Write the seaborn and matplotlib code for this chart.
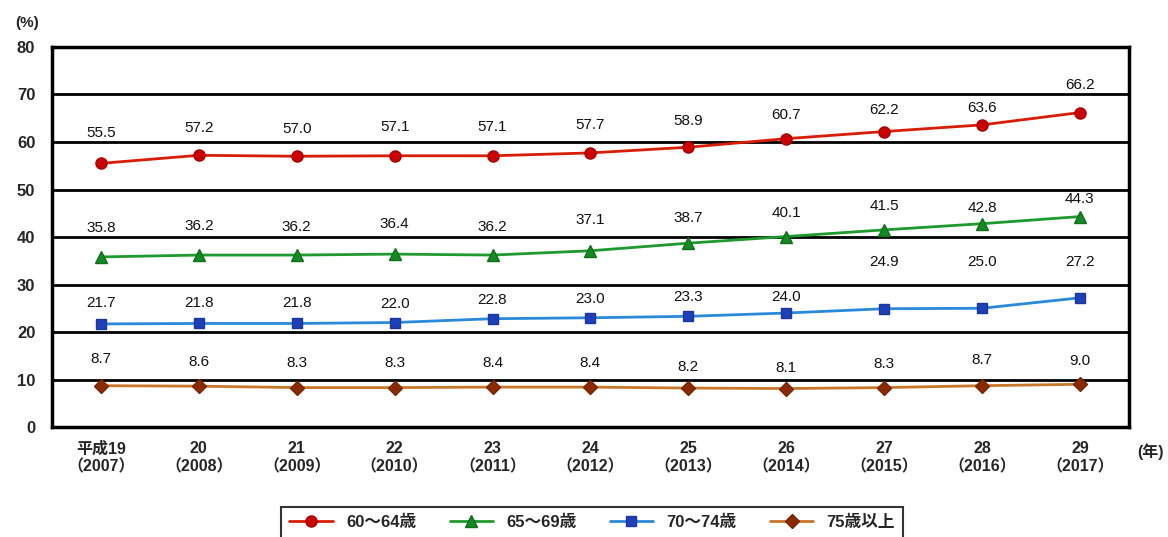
import numpy as np
import pandas as pd
import matplotlib
matplotlib.use("Agg")
import matplotlib.pyplot as plt
import seaborn as sns

years = ["平成19\n（2007）", "20\n（2008）", "21\n（2009）", "22\n（2010）", "23\n（2011）",
         "24\n（2012）", "25\n（2013）", "26\n（2014）", "27\n（2015）", "28\n（2016）", "29\n（2017）"]
s60_64 = [55.5, 57.2, 57.0, 57.1, 57.1, 57.7, 58.9, 60.7, 62.2, 63.6, 66.2]
s65_69 = [35.8, 36.2, 36.2, 36.4, 36.2, 37.1, 38.7, 40.1, 41.5, 42.8, 44.3]
s70_74 = [21.7, 21.8, 21.8, 22.0, 22.8, 23.0, 23.3, 24.0, 24.9, 25.0, 27.2]
s75 = [8.7, 8.6, 8.3, 8.3, 8.4, 8.4, 8.2, 8.1, 8.3, 8.7, 9.0]
series_names = ["60～64歳", "65～69歳", "70～74歳", "75歳以上"]
yticks = [0, 10, 20, 30, 40, 50, 60, 70, 80]

sns.set_theme(style="white")
plt.rcParams['font.family'] = ['Liberation Sans', 'Noto Sans CJK JP', 'DejaVu Sans']

fig = plt.figure(figsize=(11.68, 5.37), dpi=100)
ax = fig.add_axes([0.0445, 0.2048, 0.922, 0.7077])

styles = [
    dict(color="#d81e06", marker="o", mfc="#cc0000", mec="#aa0000", ms=8),
    dict(color="#1f9a2e", marker="^", mfc="#138a22", mec="#0f6f1a", ms=8),
    dict(color="#2a8ad8", marker="s", mfc="#1f3fb8", mec="#1a36a0", ms=7),
    dict(color="#c8782a", marker="D", mfc="#8a2a00", mec="#7a2400", ms=7),
]
all_series = [s60_64, s65_69, s70_74, s75]
x = np.arange(len(years))
for name, vals, st in zip(series_names, all_series, styles):
    df = pd.DataFrame({"x": x, "y": vals})
    sns.lineplot(data=df, x="x", y="y", ax=ax, color=st["color"], linewidth=2,
                 marker=st["marker"], markersize=st["ms"], markerfacecolor=st["mfc"],
                 markeredgecolor=st["mec"], markeredgewidth=1, label=name, zorder=3)

# vertical label offsets above each marker, in pixels (styling only)
label_offsets_px = [
    [30, 27, 27, 28.5, 28.5, 27.5, 26, 24, 22, 17, 28],
    [29, 29.5, 28.5, 30, 28.5, 30.5, 25.5, 23.5, 24, 16, 17.5],
    [20.5, 20, 20, 19, 19, 19, 19, 16, 47, 46, 36],
    [26.5, 24.5, 24.5, 24.5, 24.5, 24.5, 21, 21, 24, 26, 23.5],
]
for si, vals in enumerate(all_series):
    for i, v in enumerate(vals):
        off = label_offsets_px[si][i] * 0.72
        ax.annotate(f"{v:.1f}", (i, v), xytext=(0, off), textcoords="offset points",
                    ha="center", va="center", fontsize=11, color="#111111")

ax.set_xlim(-0.5, 10.5)
ax.set_ylim(0, 80)
ax.set_yticks(yticks)
ax.set_yticklabels([str(t) for t in yticks], fontsize=12, fontweight="bold")
ax.set_xticks(x)
ax.set_xticklabels(years, fontsize=11.5, fontweight="bold", linespacing=1.25)
ax.tick_params(axis="x", length=0, pad=10)
ax.tick_params(axis="y", length=0, pad=12)
ax.set_xlabel("")
ax.set_ylabel("")
ax.grid(axis="y", color="black", linewidth=2)
ax.set_axisbelow(True)
for sp in ax.spines.values():
    sp.set_color("black")
    sp.set_linewidth(2.5)

fig.text(0.013, 0.958, "(%)", fontsize=11, fontweight="bold", ha="left", va="center")
fig.text(0.985, 0.158, "(年)", fontsize=11.5, fontweight="bold", ha="center", va="center")

ax.get_legend().remove()
h, l = ax.get_legend_handles_labels()
leg = fig.legend(h, l, loc="upper center", bbox_to_anchor=(0.507, 0.072), ncol=4,
                 frameon=True, fontsize=12, fancybox=False, edgecolor="black",
                 handlelength=2.6, columnspacing=2.0, borderpad=0.5)
leg.get_frame().set_linewidth(1.5)
for t in leg.get_texts():
    t.set_fontweight("bold")

fig.savefig("out.png", dpi=100)
